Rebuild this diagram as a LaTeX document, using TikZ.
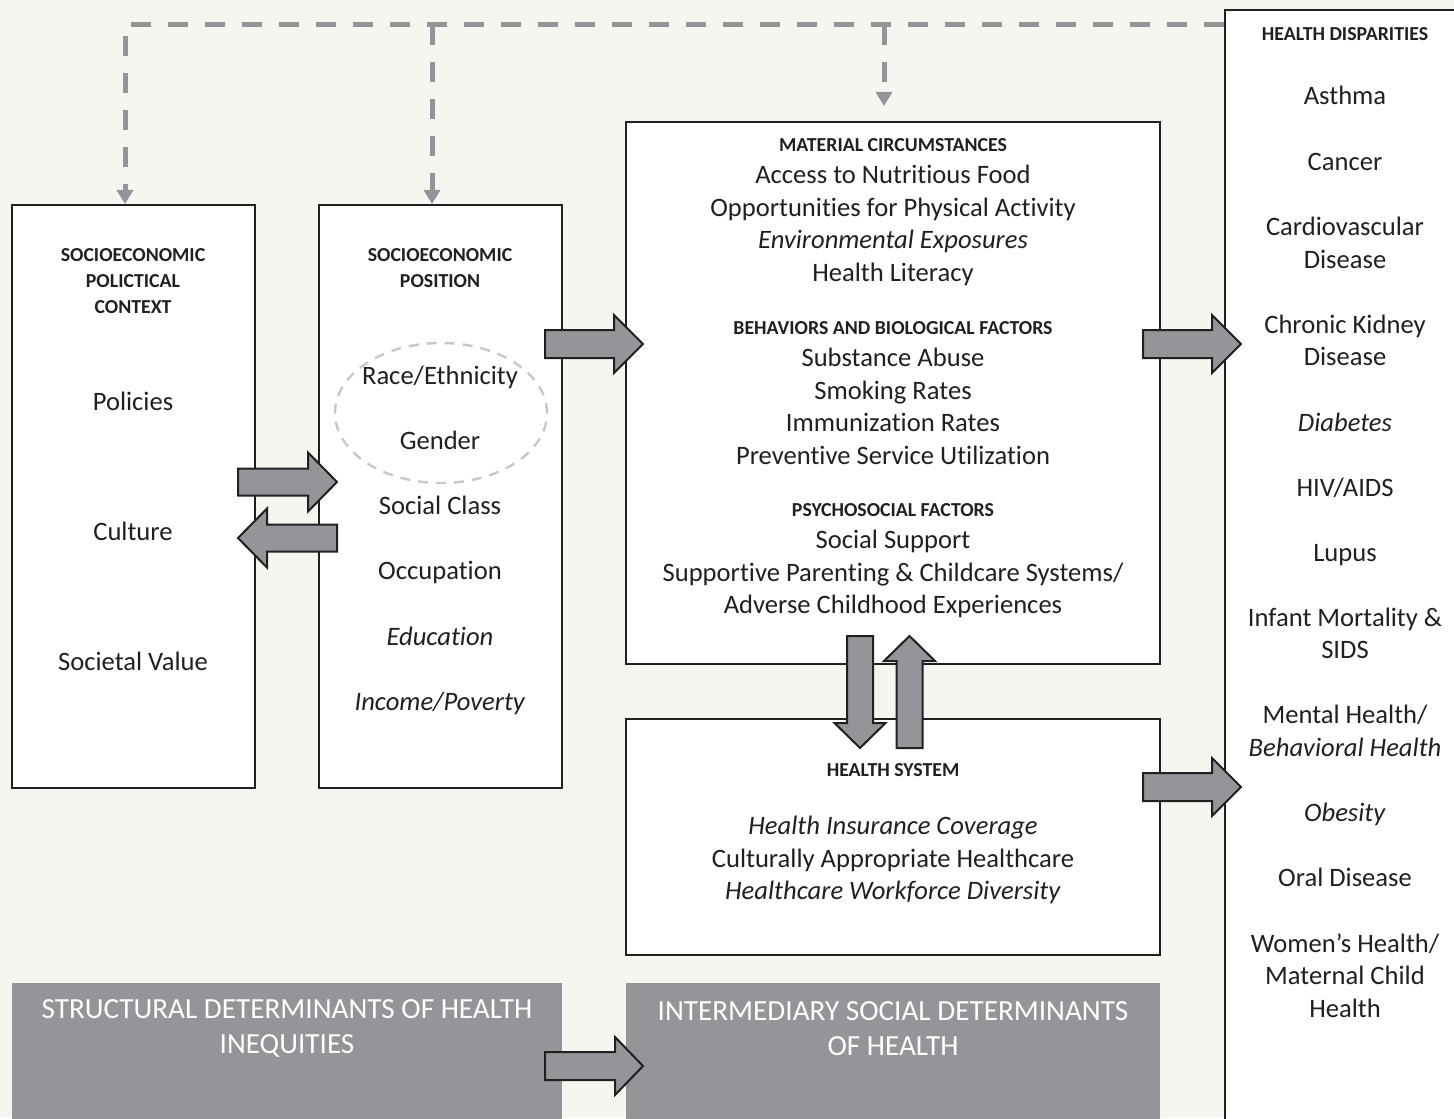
\documentclass[tikz,border=0pt]{standalone}
\usepackage{fontspec}
\setmainfont{Carlito}[Ligatures=NoCommon]
\usetikzlibrary{arrows.meta,shapes.geometric}

\definecolor{bgcol}{HTML}{F5F6F0}
\definecolor{arrgray}{HTML}{939598}
\definecolor{ink}{HTML}{231F20}
\definecolor{ovalgray}{HTML}{C8C8C8}

\tikzset{
  box/.style={draw=ink, line width=1pt, fill=white, inner sep=0pt},
  greybox/.style={fill=arrgray, inner sep=0pt},
  head/.style={font=\fontsize{9.9}{13}\selectfont\bfseries, text=ink, align=center},
  item/.style={font=\fontsize{13.3}{16.25}\selectfont, text=ink, align=center,
    text height=11.4pt, text depth=2.4pt},
  band/.style={font=\fontsize{14.6}{17.5}\selectfont, text=white, align=center},
  dashline/.style={draw=arrgray, line width=2.5pt, dash pattern=on 10pt off 8.5pt},
  dashtip/.style={-{Triangle[width=8pt,length=7pt]}},
  arrfill/.style={fill=arrgray, draw=ink, line width=1pt, line join=miter},
  pics/fatarrow/.style n args={4}{code={
    \draw[arrfill] (0,-#2) -- (#1-#4,-#2) -- (#1-#4,-#3) -- (#1,0)
      -- (#1-#4,#3) -- (#1-#4,#2) -- (0,#2) -- cycle;}}
}

\begin{document}
\begin{tikzpicture}[x=0.5pt,y=-0.5pt]
  \useasboundingbox (0,0) rectangle (1454,1118);
  \clip (0,0) rectangle (1454,1118);
  \fill[bgcol] (0,0) rectangle (1454,1118);

  % boxes
  \node[box, minimum width=121.5pt, minimum height=291.5pt] (ctx) at (133.5,496.5) {};
  \node[box, minimum width=121.5pt, minimum height=291.5pt] (pos) at (440.5,496.5) {};
  \node[box, minimum width=267pt, minimum height=271pt] (mat) at (893,393) {};
  \node[box, minimum width=267pt, minimum height=118pt] (hs) at (893,837) {};
  \node[box, minimum width=122.5pt, minimum height=560pt] (hd) at (1347.5,570) {};
  \node[greybox, minimum width=275pt, minimum height=73.5pt] (sdh) at (287,1056.5) {};
  \node[greybox, minimum width=267pt, minimum height=73.5pt] (isd) at (893,1056.5) {};

  % dashed feedback line
  \coordinate (b1) at (125,25);
  \coordinate (b2) at (432,25);
  \coordinate (b3) at (884,25);
  \draw[dashline, dashtip] (hd.west |- b1) -- (b1) -- (b1 |- ctx.north);
  \draw[dashline, dashtip] (b2) -- (b2 |- pos.north);
  \draw[dashline, dashtip] (b3) -- ([yshift=7.5pt]b3 |- mat.north);

  % socioeconomic political context
  \node[head] (ctxh) at (133,281) {SOCIOECONOMIC\\POLICTICAL\\CONTEXT};
  \foreach \y/\t in {401/Policies, 531/Culture, 661/Societal Value}
    \node[item] (c\y) at (133,\y) {\t};

  % socioeconomic position
  \node[draw=ovalgray, line width=1.2pt, dash pattern=on 5pt off 4pt, ellipse,
        minimum width=106pt, minimum height=70pt] (oval) at (441,413) {};
  \node[head] (posh) at (440,268) {SOCIOECONOMIC\\POSITION};
  \foreach \y/\t in {375/{Race/Ethnicity}, 440/Gender, 505/Social Class, 570/Occupation,
                     636/\textit{Education}, 701/\textit{Income/Poverty}}
    \node[item] (p\y) at (440,\y) {\t};

  % intermediary determinants
  \node[head] (math) at (893,145) {MATERIAL CIRCUMSTANCES};
  \node[head] (behh) at (893,328) {BEHAVIORS AND BIOLOGICAL FACTORS};
  \node[head] (psyh) at (893,510) {PSYCHOSOCIAL FACTORS};
  \foreach \y/\t in {175/Access to Nutritious Food, 208/Opportunities for Physical Activity,
                     240/\textit{Environmental Exposures}, 272/Health Literacy,
                     357/Substance Abuse, 390/Smoking Rates, 422/Immunization Rates,
                     455/Preventive Service Utilization, 539/Social Support,
                     572/{Supportive Parenting \& Childcare Systems/},
                     604/Adverse Childhood Experiences}
    \node[item] (m\y) at (893,\y) {\t};

  \node[head] (hsh) at (893,770) {HEALTH SYSTEM};
  \foreach \y/\t in {825/\textit{Health Insurance Coverage},
                     858/Culturally Appropriate Healthcare,
                     890/\textit{Healthcare Workforce Diversity}}
    \node[item] (s\y) at (893,\y) {\t};

  % health disparities
  \node[head] (hdh) at (1345,34) {HEALTH DISPARITIES};
  \foreach \y/\t in {96/Asthma, 161/Cancer, 226/Cardiovascular, 259/Disease,
                     324/Chronic Kidney, 356/Disease, 422/\textit{Diabetes},
                     487/{HIV/AIDS}, 552/Lupus, 617/Infant Mortality \&, 649/SIDS,
                     714/{Mental Health/}, 747/\textit{Behavioral Health},
                     812/\textit{Obesity}, 877/Oral Disease, 943/{Women’s Health/},
                     975/Maternal Child, 1008/Health}
    \node[item] (d\y) at (1345,\y) {\t};

  % bands
  \node[band] (sdht) at (287,1028.5) {STRUCTURAL DETERMINANTS OF HEALTH\\INEQUITIES};
  \node[band] (isdt) at (893,1028.5) {INTERMEDIARY SOCIAL DETERMINANTS\\OF HEALTH};

  % block arrows
  \pic at (238,482) {fatarrow={99}{13.5}{29.5}{29}};
  \pic[xscale=-1] at (337,538) {fatarrow={99}{13.5}{29.5}{29}};
  \pic at (545,344) {fatarrow={98}{14}{29}{29}};
  \pic at (1143,344) {fatarrow={98}{14}{29}{29}};
  \pic at (1143,787) {fatarrow={98}{14}{29}{29}};
  \pic[rotate=-90] at (860,636) {fatarrow={112}{13}{25.5}{25}};
  \pic[rotate=90] at (909.5,748) {fatarrow={112}{13}{25.5}{25}};
  \pic at (545,1066) {fatarrow={98}{14}{29}{28}};
\end{tikzpicture}
\end{document}
